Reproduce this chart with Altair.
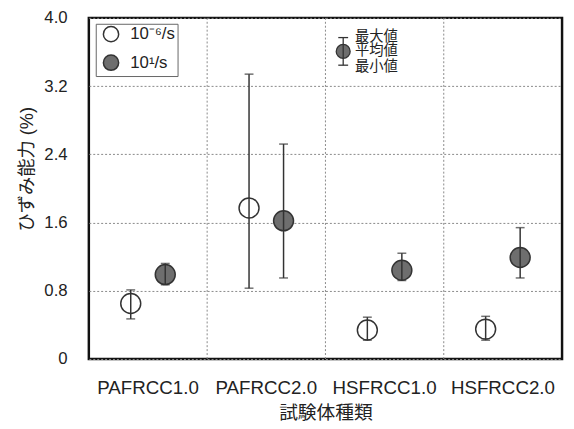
import altair as alt
import pandas as pd

categories = ["PAFRCC1.0", "PAFRCC2.0", "HSFRCC1.0", "HSFRCC2.0"]
series = ["10⁻⁶/s", "10¹/s"]
mean_slow = [0.65, 1.77, 0.34, 0.35]
max_slow = [0.81, 3.34, 0.49, 0.50]
min_slow = [0.47, 0.83, 0.22, 0.22]
mean_fast = [0.99, 1.62, 1.04, 1.19]
max_fast = [1.12, 2.52, 1.24, 1.54]
min_fast = [0.87, 0.95, 0.92, 0.95]
y_ticks = [0, 0.8, 1.6, 2.4, 3.2, 4.0]
key_labels = ["最大値", "平均値", "最小値"]

rows = []
for i, c in enumerate(categories):
    rows.append({"cat": c, "s": series[0], "mean": mean_slow[i], "max": max_slow[i], "min": min_slow[i]})
    rows.append({"cat": c, "s": series[1], "mean": mean_fast[i], "max": max_fast[i], "min": min_fast[i]})
df = pd.DataFrame(rows)

FONT = "Liberation Sans, Noto Sans CJK JP, sans-serif"

xband = alt.Scale(domain=categories, paddingInner=0, paddingOuter=0)
xoff = alt.Scale(domain=series, paddingInner=0, paddingOuter=0.714)
yscale = alt.Scale(domain=[0, 4.0], nice=False)

X = alt.X("cat:N", sort=categories, scale=xband,
          axis=alt.Axis(title="試験体種類", labelAngle=0, ticks=False, grid=False, domain=False,
                        labelPadding=20, titlePadding=6, labelFontSize=19, titleFontSize=19,
                        labelColor="#222", titleColor="#222", titleFontWeight="normal"))
XN = alt.X("cat:N", sort=categories, scale=xband, axis=None)
XO = alt.XOffset("s:N", scale=xoff, sort=series)
Y = alt.Y("mean:Q", scale=yscale,
          axis=alt.Axis(title="ひずみ能力 (%)", values=y_ticks, ticks=False, domain=False,
                        labelExpr="datum.value == 0 ? '0' : format(datum.value, '.1f')",
                        labelPadding=22, titleX=-53, titleY=153, titleFontSize=18.5,
                        labelFontSize=17,
                        labelColor="#222", titleColor="#222", titleFontWeight="normal",
                        grid=True, gridDash=[2, 2], gridColor="#888", gridWidth=1))

base = alt.Chart(df)

# vertical dotted separators between categories (decoration)
vgrid = alt.Chart(pd.DataFrame({"b": [1, 2, 3]})).mark_rule(
    strokeDash=[2, 2], color="#888", strokeWidth=1
).encode(x=alt.X("b:Q", scale=alt.Scale(domain=[0, 4], nice=False, zero=False), axis=None))

points = base.mark_point(filled=True, size=410, stroke="#333", strokeWidth=1.5, opacity=1).encode(
    x=X, xOffset=XO, y=Y,
    fill=alt.Fill("s:N", scale=alt.Scale(domain=series, range=["white", "#6e6e6e"]),
                  legend=alt.Legend(title=None, orient="none", legendX=7, legendY=6, padding=2,
                                    strokeColor="#666", fillColor="white",
                                    symbolType="circle", symbolSize=240, symbolStrokeColor="#333",
                                    symbolStrokeWidth=1.5, symbolOffset=5,
                                    labelFontSize=17, labelFont=FONT, labelColor="#222",
                                    rowPadding=6, labelOffset=11, titlePadding=0)),
)

bars = base.mark_rule(color="#333", strokeWidth=1.5).encode(
    x=XN, xOffset=XO, y=alt.Y("min:Q", scale=yscale), y2="max:Q")
cap_hi = base.mark_tick(color="#333", size=9, thickness=1.5, orient="horizontal").encode(
    x=XN, xOffset=XO, y=alt.Y("max:Q", scale=yscale))
cap_lo = base.mark_tick(color="#333", size=9, thickness=1.5, orient="horizontal").encode(
    x=XN, xOffset=XO, y=alt.Y("min:Q", scale=yscale))

# annotation key (max / mean / min)
one = pd.DataFrame({"a": [0]})
ann_pt = alt.Chart(one).mark_point(filled=True, size=200, fill="#6e6e6e", stroke="#333",
                                   strokeWidth=1.3, opacity=1).encode(
    x=alt.value(258), y=alt.value(34))
ann_bar = alt.Chart(one).mark_rule(color="#333", strokeWidth=1.3).encode(
    x=alt.value(258), y=alt.value(20), y2=alt.value(48))
ann_c1 = alt.Chart(one).mark_rule(color="#333", strokeWidth=1.3).encode(
    x=alt.value(253), x2=alt.value(263), y=alt.value(20))
ann_c2 = alt.Chart(one).mark_rule(color="#333", strokeWidth=1.3).encode(
    x=alt.value(253), x2=alt.value(263), y=alt.value(48))
ann_txts = [
    alt.Chart(one).mark_text(align="left", baseline="middle", fontSize=14.5, font=FONT,
                             color="#222", text=t).encode(x=alt.value(270), y=alt.value(yv))
    for t, yv in zip(key_labels, [19, 34, 49.5])
]

chart = alt.layer(points, vgrid, bars, cap_hi, cap_lo, ann_pt, ann_bar, ann_c1, ann_c2, *ann_txts).resolve_scale(
    x="independent"
).properties(
    width=480, height=346,
    autosize=alt.AutoSizeParams(type="none"),
    padding={"left": 82, "top": 7, "right": 4, "bottom": 66},
).configure(font=FONT).configure_view(stroke="#111", strokeWidth=2.5).configure_axis(
    labelFont=FONT, titleFont=FONT)

chart.save("out.html", embed_options={"renderer": "svg", "actions": False})
